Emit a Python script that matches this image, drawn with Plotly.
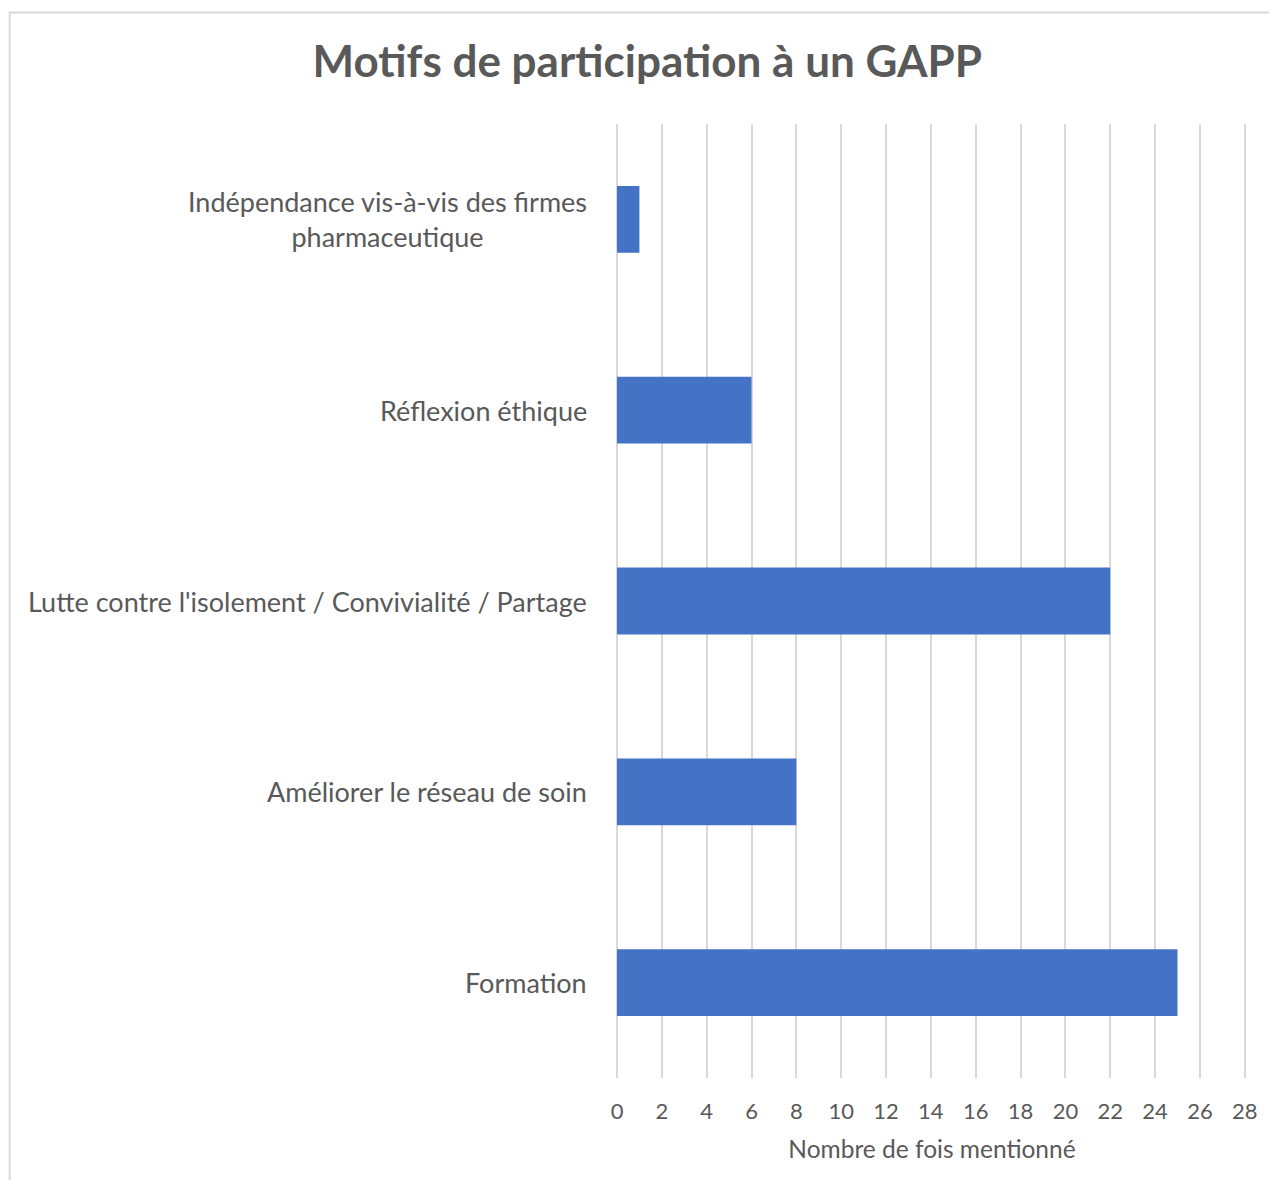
import plotly.graph_objects as go

# data (bottom to top as drawn)
categories = [
    "Formation",
    "Améliorer le réseau de soin",
    "Lutte contre l'isolement / Convivialité / Partage",
    "Réflexion éthique",
    "Indépendance vis-à-vis des firmes<br>pharmaceutique",
]
counts = [25, 8, 22, 6, 1]
x_ticks = list(range(0, 29, 2))

font_family = "Lato, 'Open Sans', sans-serif"
grey = "#595959"

fig = go.Figure(go.Bar(
    y=categories,
    x=counts,
    orientation="h",
    marker=dict(color="#4472C4", line=dict(width=0)),
    width=0.35,
))

# category labels as centred annotations next to the axis
for cat in categories:
    fig.add_annotation(
        x=0, xref="paper", y=cat, yref="y",
        text=cat, showarrow=False,
        xanchor="right", xshift=-28, align="center",
        font=dict(family=font_family, size=27, color=grey),
    )

fig.update_layout(
    width=1261, height=1172,
    margin=dict(l=609, r=22, t=116, b=102),
    paper_bgcolor="white",
    plot_bgcolor="white",
    title=dict(
        text="<b>Motifs de participation à un GAPP</b>",
        x=0.507, xanchor="center", y=0.954, yanchor="middle",
        font=dict(family=font_family, size=44, color=grey),
    ),
    xaxis=dict(
        range=[0, 28.1],
        tickvals=x_ticks,
        showgrid=True, gridcolor="#d9d9d9", gridwidth=1.5,
        zeroline=True, zerolinecolor="#d9d9d9", zerolinewidth=1.5,
        showline=False,
        tickfont=dict(family=font_family, size=22, color=grey),
        ticklabelstandoff=18,
        title=dict(text="Nombre de fois mentionné", standoff=17,
                   font=dict(family=font_family, size=24.5, color=grey)),
    ),
    yaxis=dict(
        showticklabels=False, showgrid=False, zeroline=False,
        range=[-0.5, 4.5],
    ),
    showlegend=False,
    shapes=[dict(
        type="rect", xref="paper", yref="paper",
        x0=-0.964, x1=1.08, y0=-0.15, y1=1.1169,
        line=dict(color="#d9d9d9", width=2), layer="below",
    )],
)

fig.write_html("out.html")
